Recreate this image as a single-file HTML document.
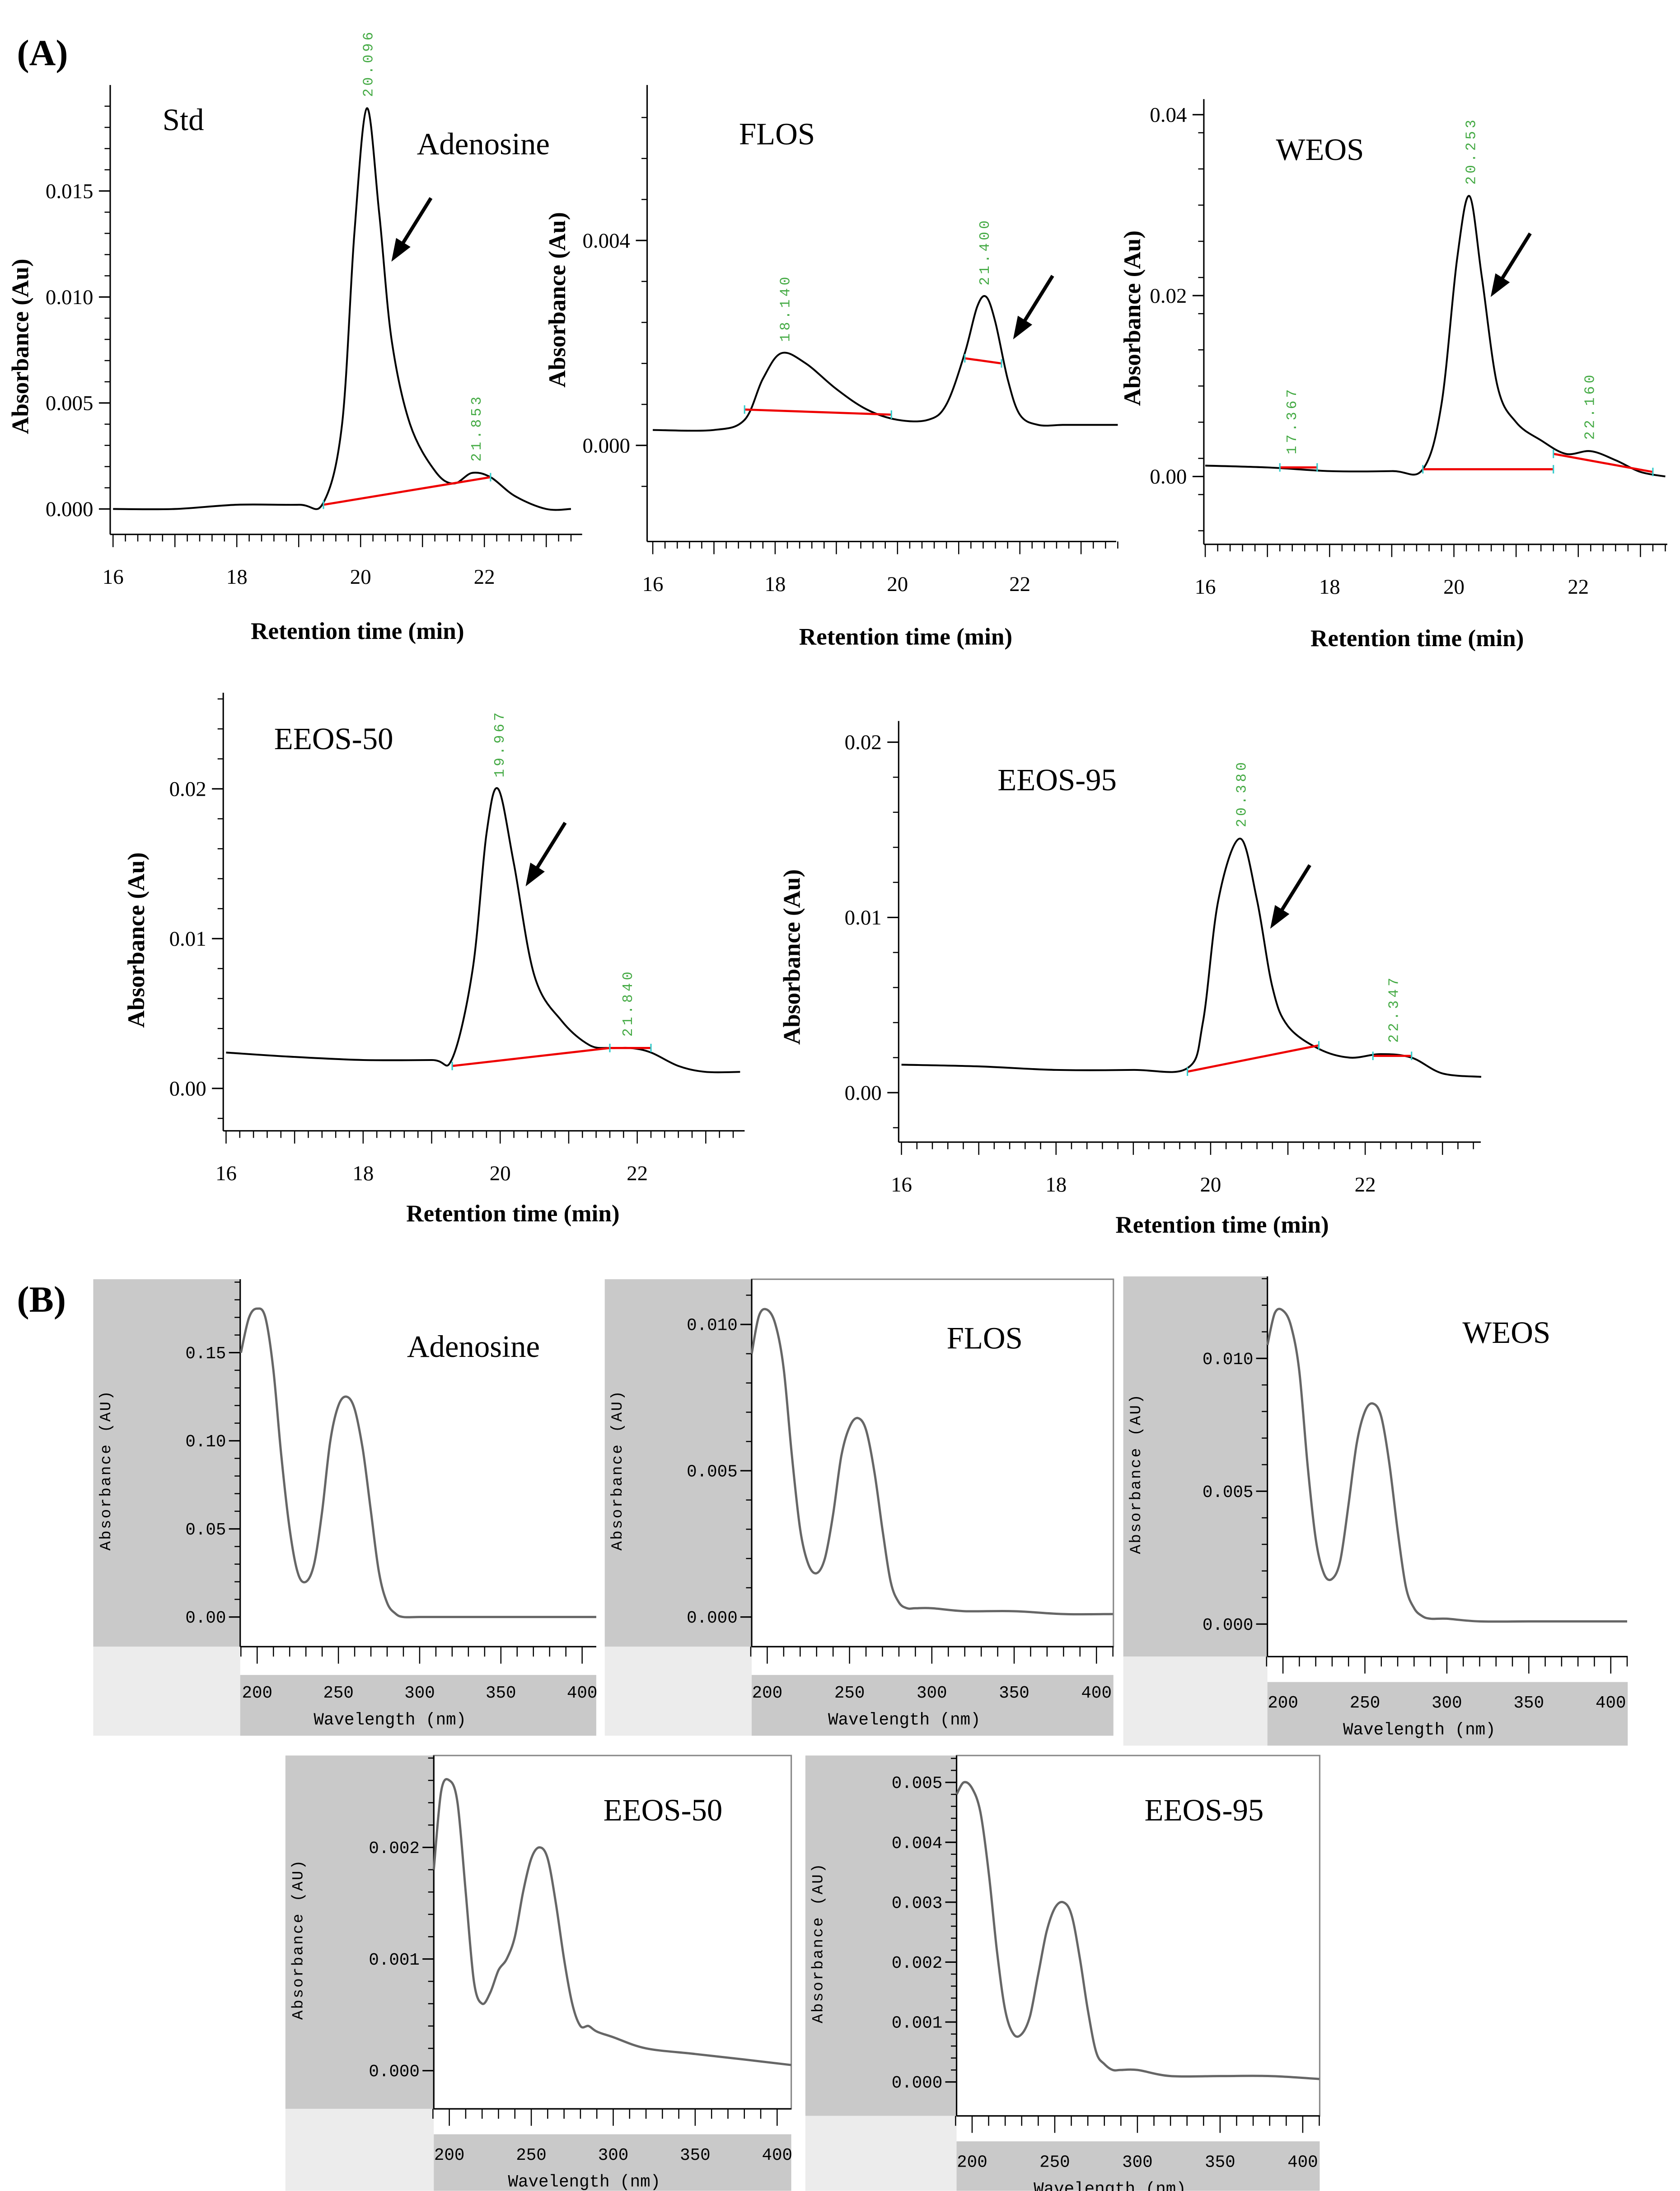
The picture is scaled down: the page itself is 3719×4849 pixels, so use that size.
<!DOCTYPE html>
<html><head><meta charset="utf-8"><style>
html,body{margin:0;padding:0;background:#fff;}
svg{display:block;}
</style></head><body>
<svg id="fig" width="3719" height="4849" viewBox="0 0 1189 1550" xmlns="http://www.w3.org/2000/svg">
<rect x="0" y="0" width="1189" height="1550" fill="#fff"/>
<text x="12" y="46" font-family="Liberation Serif, serif" font-weight="bold" font-size="26">(A)</text>
<text x="12" y="928" font-family="Liberation Serif, serif" font-weight="bold" font-size="26">(B)</text>
</svg>
<script>
// ---------- Chromatogram data ----------
const stdTimes = [16,17,18,19,19.4,19.7,19.9,20.1,20.3,20.5,20.8,21.2,21.5,21.8,22.1,22.5,23,23.4];
const stdValues = [0,0,0.0002,0.0002,0.0003,0.004,0.013,0.0189,0.014,0.008,0.004,0.0018,0.0012,0.0017,0.0015,0.0006,0,0];
const flosTimes = [16,17,17.5,17.8,18.1,18.5,19,19.5,20,20.5,20.8,21.1,21.3,21.45,21.6,21.8,22,22.3,22.7,23,23.6];
const flosValues = [0.0003,0.0003,0.0005,0.0013,0.0018,0.0016,0.0011,0.0007,0.0005,0.0005,0.0008,0.0018,0.0027,0.0029,0.0024,0.0013,0.0006,0.0004,0.0004,0.0004,0.0004];
const weosTimes = [16,17,18,19,19.5,19.8,20.05,20.25,20.45,20.7,21,21.4,21.8,22.2,22.6,23,23.4];
const weosValues = [0.0012,0.001,0.0006,0.0006,0.0008,0.008,0.024,0.031,0.022,0.01,0.006,0.004,0.0025,0.0028,0.0018,0.0005,0];
const e50Times = [16,17,18,19,19.3,19.6,19.8,19.97,20.2,20.5,20.9,21.3,21.6,21.9,22.2,22.6,23,23.5];
const e50Values = [0.0024,0.0021,0.0019,0.0019,0.002,0.008,0.017,0.02,0.015,0.0075,0.0045,0.0029,0.0027,0.0027,0.0024,0.0015,0.0011,0.0011];
const e95Times = [16,17,18,19,19.7,19.9,20.1,20.38,20.6,20.8,21,21.4,21.8,22.2,22.6,23,23.5];
const e95Values = [0.0016,0.0015,0.0013,0.0013,0.0014,0.004,0.011,0.0145,0.011,0.006,0.0038,0.0025,0.002,0.0022,0.002,0.0011,0.0009];
const xTickLabels = [16,18,20,22];
const stdYTicks = [0,0.005,0.010,0.015];
const flosYTicks = [0,0.004];
const weosYTicks = [0,0.02,0.04];
const e50YTicks = [0,0.01,0.02];
const e95YTicks = [0,0.01,0.02];
// ---------- Spectra data ----------
const wavelengths = [190,195,200,205,210,215,220,225,230,235,240,245,250,255,260,265,270,275,280,285,290,300,320,350,380,410];
const adenSpec = [0.15,0.17,0.175,0.17,0.14,0.09,0.05,0.025,0.02,0.03,0.06,0.1,0.12,0.125,0.118,0.095,0.06,0.025,0.008,0.002,0,0,0,0,0,0];
const flosSpec = [0.009,0.0103,0.0105,0.01,0.0085,0.0055,0.003,0.0018,0.0015,0.002,0.0035,0.0055,0.0065,0.0068,0.0064,0.005,0.003,0.0012,0.0005,0.0003,0.0003,0.0003,0.0002,0.0002,0.0001,0.0001];
const weosSpec = [0.0105,0.0117,0.0118,0.0112,0.0095,0.006,0.0032,0.0019,0.0017,0.0024,0.0045,0.0068,0.008,0.0083,0.0078,0.006,0.0035,0.0014,0.0006,0.0003,0.0002,0.0002,0.0001,0.0001,0.0001,0.0001];
const e50Spec = [0.0018,0.0025,0.0026,0.0024,0.0016,0.0008,0.0006,0.0007,0.0009,0.001,0.0012,0.0016,0.0019,0.002,0.0019,0.0015,0.001,0.0006,0.0004,0.0004,0.00035,0.0003,0.0002,0.00015,0.0001,0.00005];
const e95Spec = [0.0048,0.005,0.0049,0.0045,0.0035,0.0022,0.0012,0.0008,0.0008,0.0011,0.0018,0.0025,0.0029,0.003,0.0028,0.0021,0.0012,0.0005,0.0003,0.0002,0.0002,0.0002,0.0001,0.0001,0.0001,0.00005];
const specXTicks = [200,250,300,350,400];
const adenYTicks = [0,0.05,0.10,0.15];
const flosSYTicks = [0,0.005,0.010];
const weosSYTicks = [0,0.005,0.010];
const e50SYTicks = [0,0.001,0.002];
const e95SYTicks = [0,0.001,0.002,0.003,0.004,0.005];

const svg = document.getElementById('fig');
const NS = 'http://www.w3.org/2000/svg';
function mk(tag, attrs, parent){ const e=document.createElementNS(NS,tag); for(const k in attrs) e.setAttribute(k,attrs[k]); (parent||svg).appendChild(e); return e; }
function txt(x,y,s,size,attrs,parent){ const t=mk('text',Object.assign({x:x,y:y,'font-size':size,'font-family':'Liberation Serif, serif'},attrs||{}),parent); t.textContent=s; return t; }
function smooth(pts){
  let d='M'+pts[0][0].toFixed(1)+','+pts[0][1].toFixed(1);
  for(let i=0;i<pts.length-1;i++){
    const p0=pts[Math.max(i-1,0)], p1=pts[i], p2=pts[i+1], p3=pts[Math.min(i+2,pts.length-1)];
    const c1x=p1[0]+(p2[0]-p0[0])/6, c1y=p1[1]+(p2[1]-p0[1])/6;
    const c2x=p2[0]-(p3[0]-p1[0])/6, c2y=p2[1]-(p3[1]-p1[1])/6;
    d+=` C${c1x.toFixed(1)},${c1y.toFixed(1)} ${c2x.toFixed(1)},${c2y.toFixed(1)} ${p2[0].toFixed(1)},${p2[1].toFixed(1)}`;
  }
  return d;
}

function chrom(c){
  const g = mk('g',{});
  
  
  const xs = t => c.x16 + (t-16)*c.ppm;
  const ys = v => c.y0 - v*c.ppu;
  const ya = mk('line',{x1:c.ax,y1:c.top,x2:c.ax,y2:c.bot,stroke:'#000','stroke-width':1},g);
   
  const xa = mk('line',{x1:c.ax,y1:c.bot,x2:c.right,y2:c.bot,stroke:'#000','stroke-width':1},g);
   
  for(let t=16; t<=c.tmax+1e-6; t+=0.2){
    const X=xs(t); const major=Math.abs(t-Math.round(t))<1e-6;
    mk('line',{x1:X,y1:c.bot,x2:X,y2:c.bot+(major?9:5),stroke:'#000','stroke-width':0.8},g);
  }
  xTickLabels.forEach(v=>{ const t=txt(xs(v),c.bot+35,String(v),15,{'text-anchor':'middle'},g);
      });
  const step=(c.yt[1]-c.yt[0])/5;
  for(let v=c.ymin; ys(v)>=c.top; v+=step){ mk('line',{x1:c.ax-4,y1:ys(v),x2:c.ax,y2:ys(v),stroke:'#000','stroke-width':0.8},g); }
  c.yt.forEach(v=>{ mk('line',{x1:c.ax-8,y1:ys(v),x2:c.ax,y2:ys(v),stroke:'#000','stroke-width':1},g);
    const t=txt(c.ax-12,ys(v)+5,v.toFixed(c.dec),15,{'text-anchor':'end'},g);
      });
  const xt=txt(c.xlx,c.xly,'Retention time (min)',17,{'text-anchor':'middle','font-weight':'bold'},g);
   
  const yt=txt(0,0,'Absorbance (Au)',17,{'text-anchor':'middle','font-weight':'bold',transform:`translate(${c.ylx},${c.yly}) rotate(-90)`},g);
   
  const d = smooth(c.t.map((t,i)=>[xs(t),ys(c.v[i])]));
  const p=mk('path',{d:d,fill:'none',stroke:'#000','stroke-width':1.3},g);
   
  c.red.forEach(r=>{ const l=mk('line',{x1:xs(r[0]),y1:ys(r[1]),x2:xs(r[2]),y2:ys(r[3]),stroke:'#e00','stroke-width':1.5},g);
     
    mk('line',{x1:xs(r[0]),y1:ys(r[1])-3,x2:xs(r[0]),y2:ys(r[1])+3,stroke:'#3cc','stroke-width':1},g);
    mk('line',{x1:xs(r[2]),y1:ys(r[3])-3,x2:xs(r[2]),y2:ys(r[3])+3,stroke:'#3cc','stroke-width':1},g); });
  c.peaks.forEach(pk=>{ const t=txt(0,0,pk[2],10,{'font-family':'Liberation Mono, monospace',fill:'#4a4','letter-spacing':'2',transform:`translate(${xs(pk[0])+4},${ys(pk[1])-8}) rotate(-90)`},g);
      });
  const tt=txt(c.title[0],c.title[1],c.title[2],22,{},g);
   
  if(c.title2){ const t2=txt(c.title2[0],c.title2[1],c.title2[2],22,{},g);
      }
  const a=c.arrow;
  const ar=mk('line',{x1:a[0],y1:a[1],x2:a[2]+ (a[0]-a[2])*0.25,y2:a[3]+(a[1]-a[3])*0.25,stroke:'#000','stroke-width':2.5},g);
   
  const dx=a[2]-a[0], dy=a[3]-a[1], L=Math.hypot(dx,dy), ux=dx/L, uy=dy/L;
  const bx=a[2]-ux*16, by=a[3]-uy*16;
  mk('polygon',{points:`${a[2]},${a[3]} ${bx-uy*6},${by+ux*6} ${bx+uy*6},${by-ux*6}`,fill:'#000'},g);
}

chrom({name:'std',ax:78,top:60,bot:378,right:412,tmax:23.4,x16:80,ppm:43.8,y0:360,ppu:15000,ymin:0,yt:stdYTicks,dec:3,
  t:stdTimes,v:stdValues,red:[[19.4,0.0002,22.1,0.0015]],peaks:[[20.1,0.0189,'20.096'],[21.85,0.0017,'21.853']],
  title:[115,92,'Std'],title2:[295,109,'Adenosine'],arrow:[305,140,277,185],xlx:253,xly:452,ylx:20,yly:245});
chrom({name:'flos',ax:458,top:60,bot:383,right:790,tmax:23.6,x16:462,ppm:43.3,y0:315,ppu:36250,ymin:-0.0008,yt:flosYTicks,dec:3,
  t:flosTimes,v:flosValues,red:[[17.5,0.0007,19.9,0.0006],[21.1,0.0017,21.7,0.0016]],peaks:[[18.14,0.0018,'18.140'],[21.4,0.0029,'21.400']],
  title:[523,102,'FLOS'],arrow:[745,195,717,240],xlx:641,xly:456,ylx:400,yly:212});
chrom({name:'weos',ax:852,top:70,bot:385,right:1180,tmax:23.4,x16:853,ppm:44,y0:337,ppu:6400,ymin:-0.006,yt:weosYTicks,dec:2,
  t:weosTimes,v:weosValues,red:[[17.2,0.001,17.8,0.001],[19.5,0.0008,21.6,0.0008],[21.6,0.0025,23.2,0.0005]],peaks:[[17.37,0.0012,'17.367'],[20.25,0.031,'20.253'],[22.16,0.0028,'22.160']],
  title:[903,113,'WEOS'],arrow:[1083,165,1055,210],xlx:1003,xly:457,ylx:807,yly:225});
chrom({name:'eeos-50',ax:158,top:490,bot:800,right:527,tmax:23.5,x16:160,ppm:48.5,y0:770,ppu:10600,ymin:-0.002,yt:e50YTicks,dec:2,
  t:e50Times,v:e50Values,red:[[19.3,0.0015,21.6,0.0027],[21.6,0.0027,22.2,0.0027]],peaks:[[19.97,0.02,'19.967'],[21.84,0.0027,'21.840']],
  title:[194,530,'EEOS-50'],arrow:[400,582,372,627],xlx:363,xly:864,ylx:102,yly:665});
chrom({name:'eeos-95',ax:636,top:510,bot:808,right:1048,tmax:23.5,x16:638,ppm:54.7,y0:773,ppu:12400,ymin:-0.002,yt:e95YTicks,dec:2,
  t:e95Times,v:e95Values,red:[[19.7,0.0012,21.4,0.0027],[22.1,0.0021,22.6,0.0021]],peaks:[[20.38,0.0145,'20.380'],[22.35,0.0022,'22.347']],
  title:[706,559,'EEOS-95'],arrow:[927,612,899,657],xlx:865,xly:872,ylx:566,yly:677});

function spec(c){
  const g = mk('g',{});
  
  
  const xs = w => c.x200 + (w-200)*c.ppn;
  const ys = v => c.y0 - v*c.ppu;
  mk('rect',{x:c.gl,y:c.top,width:c.pl-c.gl,height:c.pb-c.top,fill:'#c9c9c9'},g);
  mk('rect',{x:c.gl,y:c.pb,width:c.pl-c.gl,height:c.bot-c.pb,fill:'#ececec'},g);
  mk('rect',{x:c.pl,y:c.ab,width:c.pr-c.pl,height:c.bot-c.ab,fill:'#c9c9c9'},g);
  mk('rect',{x:c.pl,y:c.top,width:c.pr-c.pl,height:c.pb-c.top,fill:'#fff',stroke:'#888','stroke-width':c.frame?1:0},g);
  mk('line',{x1:c.pl,y1:c.top,x2:c.pl,y2:c.pb,stroke:'#000','stroke-width':1},g);
  mk('line',{x1:c.pl,y1:c.pb,x2:c.pr,y2:c.pb,stroke:'#000','stroke-width':1},g);
  for(let w=190; xs(w)<=c.pr; w+=10){ const X=xs(w); const major=w%50===0;
    mk('line',{x1:X,y1:c.pb,x2:X,y2:c.pb+(major?12:7),stroke:'#000','stroke-width':0.8},g); }
  specXTicks.forEach(v=>{ const t=txt(xs(v),c.pb+36,String(v),12,{'text-anchor':'middle','font-family':'Liberation Mono, monospace'},g);
      });
  const st=(c.yt[1]-c.yt[0])/5;
  for(let v=0; ys(v)>=c.top; v+=st) mk('line',{x1:c.pl-4,y1:ys(v),x2:c.pl,y2:ys(v),stroke:'#000','stroke-width':0.8},g);
  c.yt.forEach(v=>{ mk('line',{x1:c.pl-8,y1:ys(v),x2:c.pl,y2:ys(v),stroke:'#000'},g);
    const t=txt(c.pl-10,ys(v)+4,v.toFixed(c.dec),12,{'text-anchor':'end','font-family':'Liberation Mono, monospace'},g);
      });
  const xt=txt((c.pl+c.pr)/2-20,c.pb+55,'Wavelength (nm)',12,{'text-anchor':'middle','font-family':'Liberation Mono, monospace'},g);
   
  const yt=txt(0,0,'Absorbance (AU)',11,{'text-anchor':'middle','font-family':'Liberation Mono, monospace','letter-spacing':'1',transform:`translate(${c.gl+12},${(c.top+c.pb)/2+5}) rotate(-90)`},g);
   
  const d = smooth(wavelengths.map((w,i)=>[Math.min(Math.max(xs(w),c.pl),c.pr), ys(c.v[i])]));
  const p=mk('path',{d:d,fill:'none',stroke:'#666','stroke-width':1.6,'stroke-linejoin':'round'},g);
   
  const tt=txt(c.title[0],c.title[1],c.title[2],22,{},g);
   
}
spec({name:'adenosine',gl:66,pl:170,pr:422,top:905,pb:1165,ab:1185,bot:1228,x200:182,ppn:1.15,y0:1144,ppu:1247,yt:adenYTicks,dec:2,v:adenSpec,title:[288,960,'Adenosine']});
spec({name:'flos',gl:428,pl:532,pr:788,top:905,pb:1165,ab:1185,bot:1228,x200:543,ppn:1.165,y0:1144,ppu:20700,yt:flosSYTicks,dec:3,v:flosSpec,title:[670,954,'FLOS'],frame:1});
spec({name:'weos',gl:795,pl:897,pr:1152,top:903,pb:1172,ab:1190,bot:1235,x200:908,ppn:1.16,y0:1149,ppu:18800,yt:weosSYTicks,dec:3,v:weosSpec,title:[1035,950,'WEOS']});
spec({name:'eeos-50',gl:202,pl:307,pr:560,top:1242,pb:1492,ab:1510,bot:1550,x200:318,ppn:1.16,y0:1465,ppu:79000,yt:e50SYTicks,dec:3,v:e50Spec,title:[427,1288,'EEOS-50'],frame:1});
spec({name:'eeos-95',gl:570,pl:677,pr:934,top:1242,pb:1497,ab:1515,bot:1550,x200:688,ppn:1.17,y0:1473,ppu:42400,yt:e95SYTicks,dec:3,v:e95Spec,title:[810,1288,'EEOS-95'],frame:1});
</script>
</body></html>
